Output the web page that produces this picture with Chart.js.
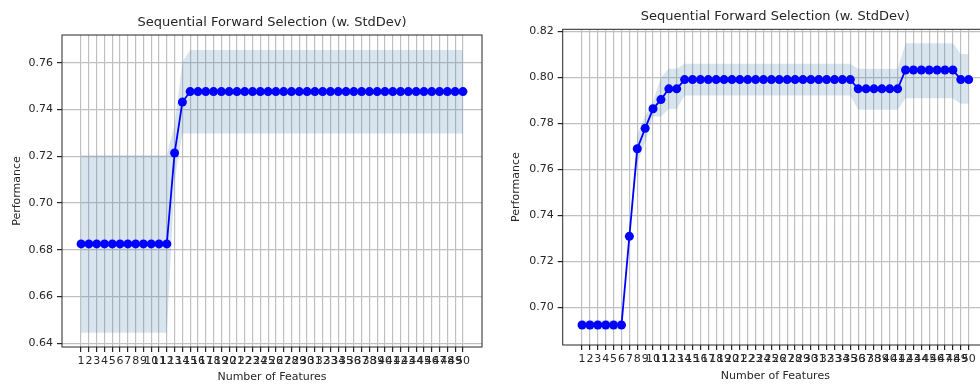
<!DOCTYPE html>
<html>
<head>
<meta charset="utf-8">
<script src="https://cdn.jsdelivr.net/npm/chart.js@4.4.1/dist/chart.umd.min.js"></script>
<style>
  html, body { margin: 0; padding: 0; background: #fff; overflow: hidden; width: 980px; height: 385px; }
  canvas { position: absolute; top: 0; }
  #leftChart { left: 0; }
  #rightChart { left: 490px; }
</style>
</head>
<body>
<canvas id="leftChart" width="490" height="385"></canvas>
<canvas id="rightChart" width="510" height="385"></canvas>
<script>
// number of selected features (x axis)
const featureCounts = [1, 2, 3, 4, 5, 6, 7, 8, 9, 10, 11, 12, 13, 14, 15, 16, 17, 18, 19, 20,
    21, 22, 23, 24, 25, 26, 27, 28, 29, 30, 31, 32, 33, 34, 35, 36, 37, 38, 39, 40,
    41, 42, 43, 44, 45, 46, 47, 48, 49, 50];

// y tick labels
const leftTicksY = [0.64, 0.66, 0.68, 0.70, 0.72, 0.74, 0.76];
const rightTicksY = [0.70, 0.72, 0.74, 0.76, 0.78, 0.80, 0.82];

// left run: mean performance and std band
const leftPerformance = [0.6825, 0.6825, 0.6825, 0.6825, 0.6825, 0.6825, 0.6825, 0.6825, 0.6825, 0.6825,
    0.6825, 0.6825, 0.7214, 0.7432, 0.7477, 0.7477, 0.7477, 0.7477, 0.7477, 0.7477,
    0.7477, 0.7477, 0.7477, 0.7477, 0.7477, 0.7477, 0.7477, 0.7477, 0.7477, 0.7477,
    0.7477, 0.7477, 0.7477, 0.7477, 0.7477, 0.7477, 0.7477, 0.7477, 0.7477, 0.7477,
    0.7477, 0.7477, 0.7477, 0.7477, 0.7477, 0.7477, 0.7477, 0.7477, 0.7477, 0.7477];
const leftUpper = [0.7205, 0.7205, 0.7205, 0.7205, 0.7205, 0.7205, 0.7205, 0.7205, 0.7205, 0.7205,
    0.7205, 0.7205, 0.7334, 0.7604, 0.7655, 0.7655, 0.7655, 0.7655, 0.7655, 0.7655,
    0.7655, 0.7655, 0.7655, 0.7655, 0.7655, 0.7655, 0.7655, 0.7655, 0.7655, 0.7655,
    0.7655, 0.7655, 0.7655, 0.7655, 0.7655, 0.7655, 0.7655, 0.7655, 0.7655, 0.7655,
    0.7655, 0.7655, 0.7655, 0.7655, 0.7655, 0.7655, 0.7655, 0.7655, 0.7655, 0.7655];
const leftLower = [0.6445, 0.6445, 0.6445, 0.6445, 0.6445, 0.6445, 0.6445, 0.6445, 0.6445, 0.6445,
    0.6445, 0.6445, 0.7094, 0.7298, 0.7298, 0.7298, 0.7298, 0.7298, 0.7298, 0.7298,
    0.7298, 0.7298, 0.7298, 0.7298, 0.7298, 0.7298, 0.7298, 0.7298, 0.7298, 0.7298,
    0.7298, 0.7298, 0.7298, 0.7298, 0.7298, 0.7298, 0.7298, 0.7298, 0.7298, 0.7298,
    0.7298, 0.7298, 0.7298, 0.7298, 0.7298, 0.7298, 0.7298, 0.7298, 0.7298, 0.7298];

// right run: mean performance and std band
const rightPerformance = [0.6923, 0.6923, 0.6923, 0.6923, 0.6923, 0.6923, 0.7309, 0.7690, 0.7779, 0.7864,
    0.7904, 0.7951, 0.7951, 0.7991, 0.7991, 0.7991, 0.7991, 0.7991, 0.7991, 0.7991,
    0.7991, 0.7991, 0.7991, 0.7991, 0.7991, 0.7991, 0.7991, 0.7991, 0.7991, 0.7991,
    0.7991, 0.7991, 0.7991, 0.7991, 0.7991, 0.7951, 0.7951, 0.7951, 0.7951, 0.7951,
    0.7951, 0.8033, 0.8033, 0.8033, 0.8033, 0.8033, 0.8033, 0.8033, 0.7991, 0.7991];
const rightUpper = [0.6943, 0.6943, 0.6943, 0.6943, 0.6943, 0.6943, 0.7322, 0.7752, 0.7835, 0.7895,
    0.8000, 0.8038, 0.8038, 0.8060, 0.8060, 0.8060, 0.8060, 0.8060, 0.8060, 0.8060,
    0.8060, 0.8060, 0.8060, 0.8060, 0.8060, 0.8060, 0.8060, 0.8060, 0.8060, 0.8060,
    0.8060, 0.8060, 0.8060, 0.8060, 0.8060, 0.8038, 0.8038, 0.8038, 0.8038, 0.8038,
    0.8038, 0.8149, 0.8149, 0.8149, 0.8149, 0.8149, 0.8149, 0.8149, 0.8103, 0.8103];
const rightLower = [0.6903, 0.6903, 0.6903, 0.6903, 0.6903, 0.6903, 0.7296, 0.7628, 0.7720, 0.7830,
    0.7830, 0.7863, 0.7863, 0.7922, 0.7922, 0.7922, 0.7922, 0.7922, 0.7922, 0.7922,
    0.7922, 0.7922, 0.7922, 0.7922, 0.7922, 0.7922, 0.7922, 0.7922, 0.7922, 0.7922,
    0.7922, 0.7922, 0.7922, 0.7922, 0.7922, 0.7860, 0.7860, 0.7860, 0.7860, 0.7860,
    0.7860, 0.7910, 0.7910, 0.7910, 0.7910, 0.7910, 0.7910, 0.7910, 0.7886, 0.7886];

const textColor = "#262626";
const fontFamily = "'DejaVu Sans', sans-serif";

// draws the four spines round the plot area like matplotlib
const framePlugin = {
    id: "frame",
    afterDraw(chart) {
        const { ctx, chartArea } = chart;
        ctx.save();
        ctx.strokeStyle = "#262626";
        ctx.lineWidth = 1;
        ctx.strokeRect(chartArea.left, chartArea.top, chartArea.right - chartArea.left, chartArea.bottom - chartArea.top);
        ctx.restore();
    },
};

function toPoints(values) {
    return featureCounts.map((x, i) => ({ x: x, y: values[i] }));
}

function makeChart(canvasId, perf, upper, lower, ticksY, yMin, yMax, layout) {
    const ctx = document.getElementById(canvasId).getContext("2d");
    return new Chart(ctx, {
        type: "line",
        data: {
            datasets: [
                {
                    label: "Performance",
                    data: toPoints(perf),
                    borderColor: "#0000ff",
                    backgroundColor: "#0000ff",
                    borderWidth: 1.8,
                    pointRadius: 4.5,
                    pointBorderWidth: 0,
                    tension: 0,
                    order: 0,
                },
                {
                    label: "upper",
                    data: toPoints(upper),
                    borderWidth: 0,
                    pointRadius: 0,
                    fill: "+1",
                    backgroundColor: "rgba(70, 130, 180, 0.21)",
                    tension: 0,
                    order: 1,
                },
                {
                    label: "lower",
                    data: toPoints(lower),
                    borderWidth: 0,
                    pointRadius: 0,
                    fill: false,
                    tension: 0,
                    order: 2,
                },
            ],
        },
        options: {
            responsive: false,
            animation: false,
            devicePixelRatio: 1,
            layout: { padding: { top: 0, left: 0, bottom: 0, right: layout.padRight } },
            plugins: {
                legend: { display: false },
                tooltip: { enabled: false },
                title: {
                    display: true,
                    fullSize: false,
                    text: "Sequential Forward Selection (w. StdDev)",
                    color: textColor,
                    font: { family: fontFamily, size: 13, weight: "normal" },
                    padding: { top: layout.titleTop, bottom: layout.titleBottom },
                },
            },
            scales: {
                x: {
                    type: "linear",
                    min: -1.45,
                    max: 52.45,
                    afterBuildTicks: (scale) => {
                        scale.ticks = featureCounts.map(v => ({ value: v }));
                    },
                    afterFit: (scale) => {
                        scale.height = layout.xHeight;
                    },
                    grid: { color: "#c0c0c0", lineWidth: 1.2, tickColor: "#262626", tickLength: 5 },
                    border: { display: false },
                    ticks: {
                        autoSkip: false,
                        maxRotation: 0,
                        minRotation: 0,
                        padding: 3,
                        color: textColor,
                        font: { family: fontFamily, size: 11 },
                        callback: (v) => String(v),
                    },
                    title: {
                        display: true,
                        text: "Number of Features",
                        color: textColor,
                        font: { family: fontFamily, size: 11 },
                        padding: { top: 0, bottom: layout.xTitlePad },
                    },
                },
                y: {
                    type: "linear",
                    min: yMin,
                    max: yMax,
                    afterBuildTicks: (scale) => {
                        scale.ticks = ticksY.map(v => ({ value: v }));
                    },
                    afterFit: (scale) => {
                        scale.width = layout.yWidth;
                    },
                    grid: { color: "#c0c0c0", lineWidth: 1.2, tickColor: "#262626", tickLength: 5 },
                    border: { display: false },
                    ticks: {
                        padding: 4,
                        color: textColor,
                        font: { family: fontFamily, size: 11 },
                        callback: (v) => v.toFixed(2),
                    },
                    title: {
                        display: true,
                        text: "Performance",
                        color: textColor,
                        font: { family: fontFamily, size: 11 },
                        padding: { top: layout.yTitlePad, bottom: 0 },
                    },
                },
            },
        },
        plugins: [framePlugin],
    });
}

document.addEventListener("DOMContentLoaded", () => {
    makeChart("leftChart", leftPerformance, leftUpper, leftLower, leftTicksY, 0.6384, 0.7719,
        { padRight: 8, titleTop: 14.5, titleBottom: 4.9, xHeight: 38, xTitlePad: 1, yWidth: 62, yTitlePad: 11 });
    makeChart("rightChart", rightPerformance, rightUpper, rightLower, rightTicksY, 0.6836, 0.821,
        { padRight: 12, titleTop: 9, titleBottom: 4.7, xHeight: 40, xTitlePad: 2.5, yWidth: 72.7, yTitlePad: 20 });
});
</script>
</body>
</html>
